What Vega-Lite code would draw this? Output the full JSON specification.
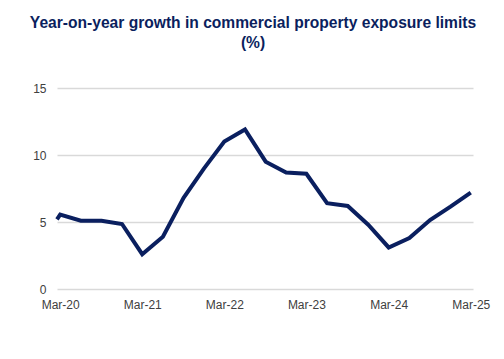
{
  "$schema": "https://vega.github.io/schema/vega-lite/v6.json",
  "width": 416,
  "height": 201,
  "autosize": {"type": "none"},
  "padding": {"left": 57, "top": 88, "right": 31, "bottom": 70},
  "background": "white",
  "title": {
    "text": ["Year-on-year growth in  commercial property exposure limits", "(%)"],
    "anchor": "middle",
    "dx": -12,
    "offset": 30,
    "font": "Liberation Sans",
    "fontSize": 15.6,
    "fontWeight": "bold",
    "color": "#0b1f5e",
    "lineHeight": 20
  },
  "config": {
    "view": {"stroke": null},
    "axis": {
      "labelFont": "Liberation Sans",
      "labelFontSize": 12,
      "labelColor": "#404040",
      "ticks": false,
      "domain": false,
      "title": null
    }
  },
  "data": {
    "values": [
      {"date": "2020-03-01", "value": 5.2},
      {"date": "2020-03-15", "value": 5.55},
      {"date": "2020-06-15", "value": 5.1},
      {"date": "2020-09-15", "value": 5.1},
      {"date": "2020-12-15", "value": 4.85},
      {"date": "2021-03-15", "value": 2.6},
      {"date": "2021-06-15", "value": 3.9},
      {"date": "2021-09-15", "value": 6.8},
      {"date": "2021-12-15", "value": 9.0},
      {"date": "2022-03-15", "value": 11.0},
      {"date": "2022-06-15", "value": 11.9},
      {"date": "2022-09-15", "value": 9.5},
      {"date": "2022-12-15", "value": 8.7},
      {"date": "2023-03-15", "value": 8.6},
      {"date": "2023-06-15", "value": 6.4},
      {"date": "2023-09-15", "value": 6.2},
      {"date": "2023-12-15", "value": 4.8},
      {"date": "2024-03-15", "value": 3.1},
      {"date": "2024-06-15", "value": 3.8},
      {"date": "2024-09-15", "value": 5.15},
      {"date": "2024-12-15", "value": 6.15},
      {"date": "2025-03-15", "value": 7.2}
    ]
  },
  "mark": {"type": "line", "color": "#0a1f5f", "strokeWidth": 4, "strokeJoin": "miter", "strokeCap": "butt", "clip": false},
  "encoding": {
    "x": {
      "field": "date",
      "type": "temporal",
      "scale": {
        "type": "utc",
        "domain": [
          {"year": 2020, "month": 3, "date": 1, "utc": true},
          {"year": 2025, "month": 3, "date": 25, "utc": true}
        ]
      },
      "axis": {
        "values": [
          {"year": 2020, "month": 3, "date": 15, "utc": true},
          {"year": 2021, "month": 3, "date": 15, "utc": true},
          {"year": 2022, "month": 3, "date": 15, "utc": true},
          {"year": 2023, "month": 3, "date": 15, "utc": true},
          {"year": 2024, "month": 3, "date": 15, "utc": true},
          {"year": 2025, "month": 3, "date": 15, "utc": true}
        ],
        "labelExpr": "utcFormat(datum.value, '%b-%y')",
        "grid": false,
        "labelPadding": 10,
        "labelFlush": false,
        "labelOverlap": false
      }
    },
    "y": {
      "field": "value",
      "type": "quantitative",
      "scale": {"domain": [0, 15], "nice": false},
      "axis": {
        "values": [0, 5, 10, 15],
        "grid": true,
        "gridColor": "#d9d9d9",
        "gridWidth": 1.3,
        "labelPadding": 11
      }
    }
  }
}
